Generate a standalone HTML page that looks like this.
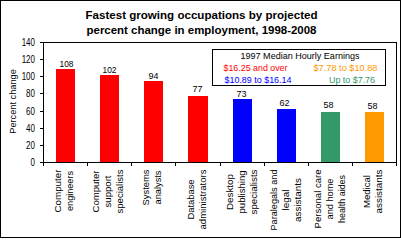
<!DOCTYPE html>
<html><head><meta charset="utf-8"><style>html,body{margin:0;padding:0;background:#fff;width:401px;height:238px;overflow:hidden}</style></head>
<body><svg width="401" height="238" viewBox="0 0 401 238" style="display:block" font-family='"Liberation Sans", sans-serif'><rect x="0" y="0" width="401" height="238" fill="#fff"/><g shape-rendering="crispEdges"><rect x="0" y="0" width="401" height="1" fill="#000"/><rect x="0" y="237" width="401" height="1" fill="#000"/><rect x="0" y="0" width="1" height="238" fill="#000"/><rect x="400" y="0" width="1" height="238" fill="#000"/><rect x="43" y="42" width="354" height="1" fill="#000"/><rect x="396" y="42" width="1" height="124" fill="#000"/><rect x="43" y="42" width="1" height="124" fill="#000"/><rect x="43" y="162" width="354" height="1" fill="#000"/><rect x="40" y="42" width="3" height="1" fill="#000"/><rect x="40" y="59" width="3" height="1" fill="#000"/><rect x="40" y="76" width="3" height="1" fill="#000"/><rect x="40" y="93" width="3" height="1" fill="#000"/><rect x="40" y="111" width="3" height="1" fill="#000"/><rect x="40" y="128" width="3" height="1" fill="#000"/><rect x="40" y="145" width="3" height="1" fill="#000"/><rect x="40" y="162" width="3" height="1" fill="#000"/><rect x="87" y="162" width="1" height="4" fill="#000"/><rect x="131" y="162" width="1" height="4" fill="#000"/><rect x="175" y="162" width="1" height="4" fill="#000"/><rect x="220" y="162" width="1" height="4" fill="#000"/><rect x="264" y="162" width="1" height="4" fill="#000"/><rect x="308" y="162" width="1" height="4" fill="#000"/><rect x="352" y="162" width="1" height="4" fill="#000"/><rect x="56" y="69" width="19" height="93" fill="#FF0000"/><rect x="100" y="75" width="19" height="87" fill="#FF0000"/><rect x="144" y="81" width="19" height="81" fill="#FF0000"/><rect x="188" y="96" width="20" height="66" fill="#FF0000"/><rect x="233" y="99" width="19" height="63" fill="#0000FF"/><rect x="277" y="109" width="19" height="53" fill="#0000FF"/><rect x="321" y="112" width="19" height="50" fill="#339966"/><rect x="365" y="112" width="19" height="50" fill="#FF9900"/><rect x="212" y="49" width="174" height="1" fill="#000"/><rect x="212" y="85" width="174" height="1" fill="#000"/><rect x="212" y="49" width="1" height="37" fill="#000"/><rect x="385" y="49" width="1" height="37" fill="#000"/></g><text x="201.5" y="19" font-size="11" text-anchor="middle" font-weight="bold" textLength="232" lengthAdjust="spacingAndGlyphs">Fastest growing occupations by projected</text><text x="201.5" y="34" font-size="11" text-anchor="middle" font-weight="bold" textLength="230" lengthAdjust="spacingAndGlyphs">percent change in employment, 1998-2008</text><g transform="translate(35,46) scale(0.8,1)"><text font-size="10" text-anchor="end">140</text></g><g transform="translate(35,63) scale(0.8,1)"><text font-size="10" text-anchor="end">120</text></g><g transform="translate(35,80) scale(0.8,1)"><text font-size="10" text-anchor="end">100</text></g><g transform="translate(35,97) scale(0.8,1)"><text font-size="10" text-anchor="end">80</text></g><g transform="translate(35,115) scale(0.8,1)"><text font-size="10" text-anchor="end">60</text></g><g transform="translate(35,132) scale(0.8,1)"><text font-size="10" text-anchor="end">40</text></g><g transform="translate(35,149) scale(0.8,1)"><text font-size="10" text-anchor="end">20</text></g><g transform="translate(35,166) scale(0.8,1)"><text font-size="10" text-anchor="end">0</text></g><text x="66.5" y="67" font-size="8.5" text-anchor="middle" textLength="14" lengthAdjust="spacingAndGlyphs">108</text><text x="109.5" y="73" font-size="8.5" text-anchor="middle" textLength="14" lengthAdjust="spacingAndGlyphs">102</text><text x="153.5" y="79" font-size="8.5" text-anchor="middle" textLength="10" lengthAdjust="spacingAndGlyphs">94</text><text x="197.5" y="92" font-size="8.5" text-anchor="middle" textLength="10" lengthAdjust="spacingAndGlyphs">77</text><text x="241.5" y="97" font-size="8.5" text-anchor="middle" textLength="10" lengthAdjust="spacingAndGlyphs">73</text><text x="284.5" y="106" font-size="8.5" text-anchor="middle" textLength="10" lengthAdjust="spacingAndGlyphs">62</text><text x="328.5" y="108" font-size="8.5" text-anchor="middle" textLength="10" lengthAdjust="spacingAndGlyphs">58</text><text x="372.5" y="109" font-size="8.5" text-anchor="middle" textLength="10" lengthAdjust="spacingAndGlyphs">58</text><text x="300" y="58.5" font-size="9.5" text-anchor="middle" textLength="119" lengthAdjust="spacingAndGlyphs">1997 Median Hourly Earnings</text><text x="255.5" y="70.5" font-size="9.5" text-anchor="middle" fill="#FF0000" textLength="64" lengthAdjust="spacingAndGlyphs">$16.25 and over</text><text x="345.5" y="70.5" font-size="9.5" text-anchor="middle" fill="#FF9900" textLength="64" lengthAdjust="spacingAndGlyphs">$7.78 to $10.88</text><text x="258" y="82.5" font-size="9.5" text-anchor="middle" fill="#0000FF" textLength="67" lengthAdjust="spacingAndGlyphs">$10.89 to $16.14</text><text x="352" y="82.5" font-size="9.5" text-anchor="middle" fill="#339966" textLength="46" lengthAdjust="spacingAndGlyphs">Up to $7.76</text><text font-size="9.5" text-anchor="middle" textLength="64.5" lengthAdjust="spacingAndGlyphs" transform="translate(16,101.5) rotate(-90)">Percent change</text><text font-size="9.5" text-anchor="middle" textLength="43" lengthAdjust="spacingAndGlyphs" transform="translate(61,191.0) rotate(-90)">Computer</text><text font-size="9.5" text-anchor="middle" textLength="40" lengthAdjust="spacingAndGlyphs" transform="translate(73,191.0) rotate(-90)">engineers</text><text font-size="9.5" text-anchor="middle" textLength="42" lengthAdjust="spacingAndGlyphs" transform="translate(99,191.5) rotate(-90)">Computer</text><text font-size="9.5" text-anchor="middle" textLength="32" lengthAdjust="spacingAndGlyphs" transform="translate(111,191.5) rotate(-90)">support</text><text font-size="9.5" text-anchor="middle" textLength="44" lengthAdjust="spacingAndGlyphs" transform="translate(123,191.5) rotate(-90)">specialists</text><text font-size="9.5" text-anchor="middle" textLength="36" lengthAdjust="spacingAndGlyphs" transform="translate(149,187.5) rotate(-90)">Systems</text><text font-size="9.5" text-anchor="middle" textLength="34" lengthAdjust="spacingAndGlyphs" transform="translate(161,187.5) rotate(-90)">analysts</text><text font-size="9.5" text-anchor="middle" textLength="40" lengthAdjust="spacingAndGlyphs" transform="translate(194,199.5) rotate(-90)">Database</text><text font-size="9.5" text-anchor="middle" textLength="60" lengthAdjust="spacingAndGlyphs" transform="translate(206,199.5) rotate(-90)">administrators</text><text font-size="9.5" text-anchor="middle" textLength="36" lengthAdjust="spacingAndGlyphs" transform="translate(233,192.0) rotate(-90)">Desktop</text><text font-size="9.5" text-anchor="middle" textLength="43" lengthAdjust="spacingAndGlyphs" transform="translate(245,192.0) rotate(-90)">publishing</text><text font-size="9.5" text-anchor="middle" textLength="45" lengthAdjust="spacingAndGlyphs" transform="translate(257,192.0) rotate(-90)">specialists</text><text font-size="9.5" text-anchor="middle" textLength="61" lengthAdjust="spacingAndGlyphs" transform="translate(277,200.0) rotate(-90)">Paralegals and</text><text font-size="9.5" text-anchor="middle" textLength="21" lengthAdjust="spacingAndGlyphs" transform="translate(289,200.0) rotate(-90)">legal</text><text font-size="9.5" text-anchor="middle" textLength="44" lengthAdjust="spacingAndGlyphs" transform="translate(301,200.0) rotate(-90)">assistants</text><text font-size="9.5" text-anchor="middle" textLength="59" lengthAdjust="spacingAndGlyphs" transform="translate(321,199.0) rotate(-90)">Personal care</text><text font-size="9.5" text-anchor="middle" textLength="41" lengthAdjust="spacingAndGlyphs" transform="translate(333,199.0) rotate(-90)">and home</text><text font-size="9.5" text-anchor="middle" textLength="48" lengthAdjust="spacingAndGlyphs" transform="translate(345,199.0) rotate(-90)">health aides</text><text font-size="9.5" text-anchor="middle" textLength="33" lengthAdjust="spacingAndGlyphs" transform="translate(370,191.5) rotate(-90)">Medical</text><text font-size="9.5" text-anchor="middle" textLength="44" lengthAdjust="spacingAndGlyphs" transform="translate(382,191.5) rotate(-90)">assistants</text></svg></body></html>
